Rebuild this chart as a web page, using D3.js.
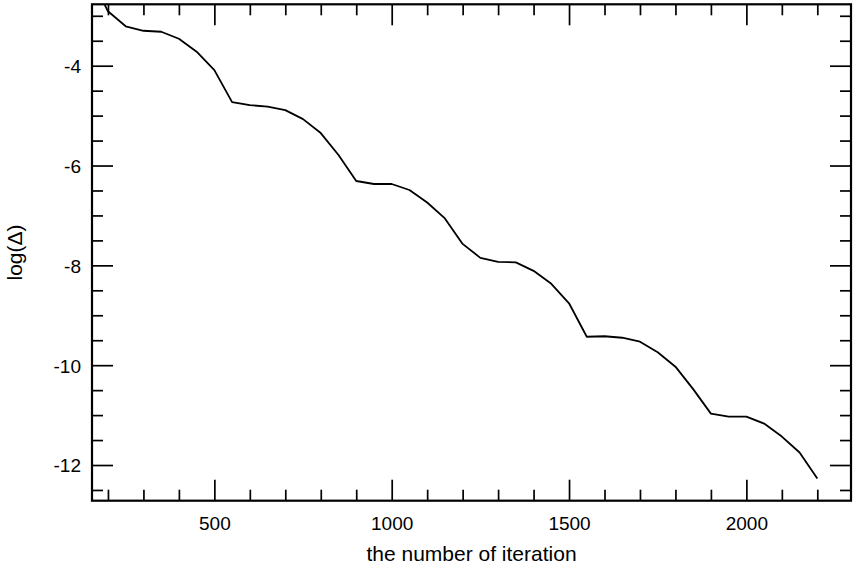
<!DOCTYPE html>
<html>
<head>
<meta charset="utf-8">
<script src="https://cdn.jsdelivr.net/npm/d3@7"></script>
<style>
  html, body { margin: 0; padding: 0; background: #fff; }
  svg text { font-family: "Liberation Sans", Arial, Helvetica, sans-serif; fill: #000; }
</style>
</head>
<body>
<svg id="chart" width="857" height="569"></svg>
<script>
// Iteration counts (sampled every 50 iterations)
const iterations = [150, 200, 250, 300, 350, 400, 450, 500, 550, 600, 650, 700, 750, 800, 850,
  900, 950, 1000, 1050, 1100, 1150, 1200, 1250, 1300, 1350, 1400, 1450, 1500, 1550, 1600,
  1650, 1700, 1750, 1800, 1850, 1900, 1950, 2000, 2050, 2100, 2150, 2200];
// log(Δ) at each iteration
const logDelta = [-2.20, -2.91, -3.21, -3.30, -3.32, -3.46, -3.72, -4.09, -4.73, -4.79, -4.82, -4.89, -5.07, -5.35, -5.79,
  -6.31, -6.37, -6.37, -6.49, -6.74, -7.06, -7.57, -7.85, -7.93, -7.94, -8.11, -8.37, -8.76, -9.43, -9.42,
  -9.45, -9.53, -9.74, -10.03, -10.48, -10.97, -11.03, -11.03, -11.17, -11.43, -11.75, -12.27];

const xMajorTicks = [500, 1000, 1500, 2000];
const xMinorTicks = d3.range(200, 2201, 100).filter(v => !xMajorTicks.includes(v));
const yMajorTicks = [-4, -6, -8, -10, -12];
const yMinorTicks = d3.range(-12.5, -2.9, 0.5).filter(v => !yMajorTicks.includes(v));

const xLabel = "the number of iteration";
const yLabel = "log(Δ)";

const svg = d3.select("#chart");
const plotLeft = 92, plotRight = 851, plotTop = 4.3, plotBottom = 500.7;

const x = d3.scaleLinear().domain([155, 2295]).range([plotLeft, plotRight]);
const y = d3.scaleLinear().domain([-12.715, -2.77]).range([plotBottom, plotTop]);

const majorLen = 21, minorLen = 11;
const tickFont = 19, titleFont = 21;
// plain hyphen-minus for negative labels
const intFormat = d => String(Math.round(d));

// clip the curve to the frame
svg.append("defs").append("clipPath").attr("id", "plotClip")
  .append("rect").attr("x", plotLeft).attr("y", plotTop)
  .attr("width", plotRight - plotLeft).attr("height", plotBottom - plotTop);

// ticks on all four sides, pointing inward
function styleAxis(g) {
  g.select(".domain").remove();
  g.selectAll(".tick line").attr("stroke", "#000").attr("stroke-width", 1.7);
}

svg.append("g").attr("transform", `translate(0,${plotBottom})`)
  .call(d3.axisBottom(x).tickValues(xMajorTicks).tickSize(-majorLen).tickFormat(intFormat))
  .call(styleAxis)
  .call(g => g.selectAll("text").attr("font-size", tickFont).attr("y", 29).attr("dy", 0));
svg.append("g").attr("transform", `translate(0,${plotBottom})`)
  .call(d3.axisBottom(x).tickValues(xMinorTicks).tickSize(-minorLen).tickFormat(""))
  .call(styleAxis);
svg.append("g").attr("transform", `translate(0,${plotTop})`)
  .call(d3.axisTop(x).tickValues(xMajorTicks).tickSize(-majorLen).tickFormat(""))
  .call(styleAxis);
svg.append("g").attr("transform", `translate(0,${plotTop})`)
  .call(d3.axisTop(x).tickValues(xMinorTicks).tickSize(-minorLen).tickFormat(""))
  .call(styleAxis);

svg.append("g").attr("transform", `translate(${plotLeft},0)`)
  .call(d3.axisLeft(y).tickValues(yMajorTicks).tickSize(-majorLen).tickPadding(11).tickFormat(intFormat))
  .call(styleAxis)
  .call(g => g.selectAll("text").attr("font-size", tickFont).attr("dy", "0.36em"));
svg.append("g").attr("transform", `translate(${plotLeft},0)`)
  .call(d3.axisLeft(y).tickValues(yMinorTicks).tickSize(-minorLen).tickFormat(""))
  .call(styleAxis);
svg.append("g").attr("transform", `translate(${plotRight},0)`)
  .call(d3.axisRight(y).tickValues(yMajorTicks).tickSize(-majorLen).tickFormat(""))
  .call(styleAxis);
svg.append("g").attr("transform", `translate(${plotRight},0)`)
  .call(d3.axisRight(y).tickValues(yMinorTicks).tickSize(-minorLen).tickFormat(""))
  .call(styleAxis);

// frame
svg.append("rect")
  .attr("x", plotLeft).attr("y", plotTop)
  .attr("width", plotRight - plotLeft).attr("height", plotBottom - plotTop)
  .attr("fill", "none").attr("stroke", "#000").attr("stroke-width", 2.2);

// convergence curve
const line = d3.line().x((d, i) => x(iterations[i])).y(d => y(d));
svg.append("path")
  .datum(logDelta)
  .attr("clip-path", "url(#plotClip)")
  .attr("d", line)
  .attr("fill", "none").attr("stroke", "#000").attr("stroke-width", 1.8)
  .attr("stroke-linejoin", "round");

// axis titles
svg.append("text")
  .attr("x", (plotLeft + plotRight) / 2).attr("y", 561)
  .attr("text-anchor", "middle").attr("font-size", titleFont)
  .text(xLabel);
svg.append("text")
  .attr("transform", `translate(22,${(plotTop + plotBottom) / 2}) rotate(-90)`)
  .attr("text-anchor", "middle").attr("font-size", titleFont)
  .text(yLabel);
</script>
</body>
</html>
